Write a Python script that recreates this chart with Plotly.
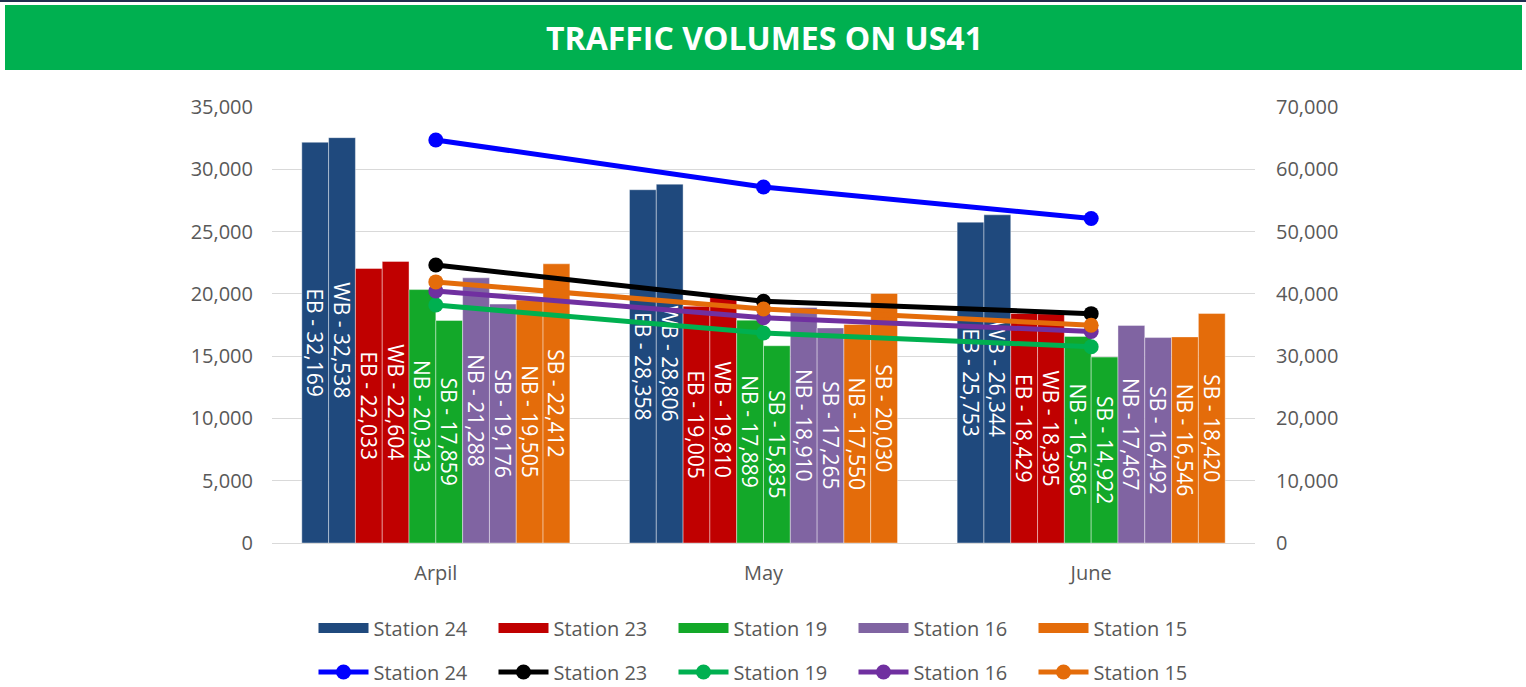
import plotly.graph_objects as go

months = ["Arpil", "May", "June"]

# Bar series (daily volumes by direction)
s24_eb = [32169, 28358, 25753]
s24_wb = [32538, 28806, 26344]
s23_eb = [22033, 19005, 18429]
s23_wb = [22604, 19810, 18395]
s19_nb = [20343, 17889, 16586]
s19_sb = [17859, 15835, 14922]
s16_nb = [21288, 18910, 17467]
s16_sb = [19176, 17265, 16492]
s15_nb = [19505, 17550, 16546]
s15_sb = [22412, 20030, 18420]

# Line series (station totals, secondary axis)
t24 = [64707, 57164, 52097]
t23 = [44637, 38815, 36824]
t19 = [38202, 33724, 31508]
t16 = [40464, 36175, 33959]
t15 = [41917, 37580, 34966]

stations = ["Station 24", "Station 23", "Station 19", "Station 16", "Station 15"]
bar_colors = ["#1F497D", "#C00000", "#13A829", "#8064A2", "#E46C0A"]
line_colors = ["#0000FF", "#000000", "#00B050", "#7030A0", "#E46C0A"]

bar_sets = [
    (("EB", s24_eb), ("WB", s24_wb)),
    (("EB", s23_eb), ("WB", s23_wb)),
    (("NB", s19_nb), ("SB", s19_sb)),
    (("NB", s16_nb), ("SB", s16_sb)),
    (("NB", s15_nb), ("SB", s15_sb)),
]
line_sets = [t24, t23, t19, t16, t15]

FONT = "Open Sans"
GREY = "#595959"

fig = go.Figure()

for st, col, pair in zip(stations, bar_colors, bar_sets):
    for i, (d, vals) in enumerate(pair):
        fig.add_trace(go.Bar(
            x=months, y=vals, name=st, legendgroup=st, showlegend=False,
            marker=dict(color=col, line=dict(color="rgba(255,255,255,0.4)", width=1)),
            text=[f"{d} - {v:,}" for v in vals],
            textposition="inside", insidetextanchor="middle", textangle=90,
            constraintext="none",
            textfont=dict(color="white", size=21, family=FONT),
            hoverinfo="skip",
        ))
    # legend swatch (wide rectangle like the reference)
    fig.add_trace(go.Scatter(
        x=[None], y=[None], name=st, legendgroup=st, legend="legend",
        mode="lines", line=dict(color=col, width=15), hoverinfo="skip",
    ))

for st, col, vals in zip(stations, line_colors, line_sets):
    fig.add_trace(go.Scatter(
        x=months, y=vals, name=st, yaxis="y2", legend="legend2",
        mode="lines+markers",
        line=dict(color=col, width=5),
        marker=dict(color=col, size=15),
        hoverinfo="skip",
    ))

L, R, T, B = 272, 1255, 107, 543
PW, PH = R - L, B - T
def px_x(x):
    return (x - L) / PW
def px_y(y):
    return (B - y) / PH

fig.update_layout(
    width=1526, height=687,
    margin=dict(l=L, r=1526 - R, t=T, b=687 - B, autoexpand=False),
    paper_bgcolor="white", plot_bgcolor="white",
    barmode="group", bargap=0.182, bargroupgap=0,
    font=dict(family=FONT, color=GREY, size=20),
    xaxis=dict(type="category", showgrid=False, showline=True, linecolor="#D9D9D9",
               linewidth=1, ticks="", tickfont=dict(size=20, color=GREY),
               ticklabelstandoff=12, automargin=False),
    yaxis=dict(range=[0, 35000], dtick=5000, tickformat=",", showgrid=True,
               gridcolor="#D9D9D9", gridwidth=1, zeroline=False, showline=False,
               tickfont=dict(size=20, color=GREY), ticklabelstandoff=18, automargin=False),
    yaxis2=dict(range=[0, 70000], dtick=10000, tickformat=",", overlaying="y",
                side="right", showgrid=False, zeroline=False, showline=False,
                tickfont=dict(size=20, color=GREY), ticklabelstandoff=20, automargin=False),
    legend=dict(orientation="h", xref="paper", x=0.5, xanchor="center",
                yref="container", y=1 - 628 / 687, yanchor="middle",
                font=dict(size=20, color=GREY), entrywidth=115, itemwidth=50,
                bgcolor="rgba(0,0,0,0)"),
    legend2=dict(orientation="h", xref="paper", x=0.5, xanchor="center",
                 yref="container", y=1 - 672 / 687, yanchor="middle",
                 font=dict(size=20, color=GREY), entrywidth=115, itemwidth=50,
                 bgcolor="rgba(0,0,0,0)"),
    shapes=[
        dict(type="rect", xref="paper", yref="paper",
             x0=px_x(5), x1=px_x(1522), y0=px_y(70), y1=px_y(5),
             fillcolor="#00B050", line=dict(width=0), layer="below"),
        dict(type="rect", xref="paper", yref="paper",
             x0=px_x(0), x1=px_x(1526), y0=px_y(2), y1=px_y(0),
             fillcolor="#1F2F4F", line=dict(width=0), layer="below"),
    ],
    annotations=[
        dict(text="<b>TRAFFIC VOLUMES ON US41</b>", xref="paper", yref="paper",
             x=px_x(764), y=px_y(38), xanchor="center", yanchor="middle",
             showarrow=False, font=dict(size=32, color="white", family=FONT)),
    ],
)

fig.write_html("out.html", config={"displayModeBar": False},
               post_script="document.body.style.margin='0';document.body.style.overflow='hidden';")
